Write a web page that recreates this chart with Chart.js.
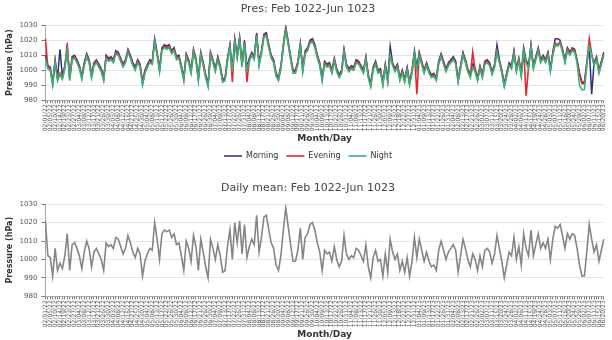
<!DOCTYPE html>
<html>
<head>
<meta charset="utf-8">
<script src="https://cdn.jsdelivr.net/npm/chart.js@4.4.1/dist/chart.umd.min.js"></script>
<style>
  body { margin: 0; background: #fff; }
  #top { position: absolute; left: 0; top: 0; width: 612px; height: 172px; }
  #bottom { position: absolute; left: 0; top: 174px; width: 612px; height: 166px; }
</style>
</head>
<body>
<div id="top"><canvas id="presChart"></canvas></div>
<div id="bottom"><canvas id="meanChart"></canvas></div>
<script>
const topTitle = 'Pres: Feb 1022-Jun 1023';
const bottomTitle = 'Daily mean: Feb 1022-Jun 1023';
const seriesNames = ['Morning', 'Evening', 'Night'];
const yMin = 980;
const yMax = 1030;

const morningValues = [
  1010, 1003, 1002, 992, 1007, 995, 1014, 996, 1003, 1015,
  995, 1009, 1010, 1007, 1003, 996, 1005, 1011, 1007, 997,
  1005, 1007, 1004, 1001, 995, 1010, 1008, 1009, 1007, 1013,
  1012, 1008, 1004, 1007, 1014, 1010, 1005, 1002, 1007, 1004,
  992, 1000, 1004, 1007, 1006, 1021, 1012, 1001, 1015, 1017,
  1016, 1017, 1013, 1015, 1009, 1010, 1003, 995, 1011, 1007,
  1000,
  1014, 1008, 995, 1012, 1005, 997, 991, 1012, 1007, 1001,
  1009, 1003, 994, 995, 1008, 1017, 1001, 1021, 1010, 1022,
  1004, 1020, 1002, 1008, 1012, 1009, 1025, 1005, 1013, 1024,
  1025, 1017, 1010, 1007, 998, 995, 1003, 1017, 1029, 1019,
  1009, 1000, 1000, 1006, 1018, 1001, 1013, 1015, 1020, 1021,
  1017, 1010, 1005, 995, 1006, 1004, 1005, 1000, 1008, 1001,
  997, 1000, 1014, 1004, 1001, 1003, 1002, 1007, 1006, 1003,
  1000, 1009, 997, 991, 1002, 1006, 1000, 1001, 992, 1004,
  994,
  1016, 1005, 1001, 1004, 995, 1000, 994, 1002, 992, 1000,
  1013, 1002, 1012, 1006, 1000, 1005, 1000, 997, 998, 995,
  1006, 1011, 1006, 1001, 1005, 1007, 1009, 1006, 994, 1003,
  1012, 1007, 1001, 997, 1004, 1001, 995, 1003, 997, 1006,
  1007, 1005, 999, 1004, 1017, 1007, 1000, 991, 998, 1005,
  1003, 1013, 1001, 1008, 998, 1015, 1007, 1003, 1017, 1003,
  1009, 1015, 1007, 1010, 1007, 1012, 1001, 1012, 1021, 1021,
  1020, 1014, 1007, 1015, 1012, 1015, 1014, 1007, 998, 992,
  992, 1005, 1016, 984, 1005, 1009, 1000, 1006, 1012
];

const eveningValues = [
  1021, 1002, 1001, 991, 1006, 994, 998, 995, 1002, 1018,
  994, 1008, 1009, 1006, 1002, 995, 1004, 1010, 1006, 996,
  1004, 1006, 1003, 1000, 994, 1009, 1007, 1008, 1006, 1012,
  1011, 1007, 1003, 1006, 1013, 1009, 1004, 1001, 1006, 1003,
  991, 999, 1003, 1006, 1005, 1020, 1011, 1000, 1014, 1016,
  1015, 1016, 1012, 1014, 1008, 1009, 1002, 994, 1010, 1006,
  999,
  1013, 1007, 994, 1011, 1004, 996, 990, 1011, 1006, 1000,
  1008, 1002, 993, 994, 1007, 1016, 992, 1020, 1009, 1021,
  1003, 1019, 992, 1007, 1011, 1008, 1024, 1004, 1012, 1023,
  1024, 1016, 1009, 1006, 997, 994, 1002, 1016, 1028, 1018,
  1008, 999, 999, 1005, 1017, 1000, 1012, 1014, 1019, 1020,
  1016, 1009, 1004, 994, 1005, 1003, 1004, 999, 1007, 1000,
  996, 999, 1013, 1003, 1000, 1002, 1001, 1006, 1005, 1002,
  999, 1008, 996, 990, 1001, 1005, 999, 1000, 991, 1003,
  993,
  1011, 1004, 1000, 1003, 994, 999, 993, 1001, 991, 999,
  1012, 984, 1011, 1005, 999, 1004, 999, 996, 997, 994,
  1005, 1010, 1005, 1000, 1004, 1006, 1008, 1005, 993, 1002,
  1011, 1006, 1000, 996, 1012, 1000, 994, 1002, 996, 1005,
  1006, 1004, 998, 1003, 1013, 1006, 999, 990, 997, 1004,
  1002, 1012, 1000, 1007, 997, 1014, 983, 1002, 1016, 1002,
  1008, 1014, 1006, 1009, 1006, 1011, 1000, 1011, 1018, 1017,
  1019, 1013, 1006, 1014, 1011, 1014, 1013, 1006, 997, 991,
  991, 1004, 1021, 1011, 1004, 1008, 999, 1005, 1011
];

const nightValues = [
  1008, 1001, 1000, 990, 1005, 993, 997, 994, 1001, 1013,
  993, 1007, 1008, 1005, 1001, 994, 1003, 1009, 1005, 995,
  1003, 1005, 1002, 999, 993, 1008, 1006, 1007, 1005, 1011,
  1010, 1006, 1002, 1005, 1012, 1008, 1003, 1000, 1005, 1002,
  990, 998, 1002, 1005, 1004, 1019, 1010, 999, 1013, 1015,
  1014, 1015, 1011, 1013, 1007, 1008, 1001, 993, 1009, 1005,
  998,
  1012, 1006, 993, 1010, 1003, 995, 989, 1010, 1005, 999,
  1007, 1001, 992, 993, 1006, 1015, 999, 1019, 1008, 1020,
  1002, 1018, 1000, 1006, 1010, 1007, 1023, 1003, 1011, 1022,
  1023, 1015, 1008, 1005, 996, 993, 1001, 1015, 1027, 1017,
  1007, 998, 998, 1004, 1016, 999, 1011, 1013, 1018, 1019,
  1015, 1008, 1003, 993, 1004, 1002, 1003, 998, 1006, 999,
  995, 998, 1012, 1002, 999, 1001, 1000, 1005, 1004, 1001,
  998, 1007, 995, 989, 1000, 1004, 998, 999, 990, 1002,
  992,
  1010, 1003, 999, 1002, 993, 998, 992, 1000, 990, 998,
  1011, 1000, 1010, 1004, 998, 1003, 998, 995, 996, 993,
  1004, 1009, 1004, 999, 1003, 1005, 1007, 1004, 992, 1001,
  1010, 1005, 999, 995, 1002, 999, 993, 1001, 995, 1004,
  1005, 1003, 997, 1002, 1012, 1005, 998, 989, 996, 1003,
  1001, 1011, 999, 1006, 996, 1013, 1005, 1001, 1015, 1001,
  1007, 1013, 1005, 1008, 1005, 1010, 999, 1010, 1017, 1016,
  1018, 1012, 1005, 1013, 1010, 1013, 1012, 1005, 990, 987,
  987, 1003, 1016, 1010, 1003, 1007, 998, 1004, 1010
];

const meanValues = [
  1021, 1002, 1001, 991, 1006, 994, 998, 995, 1002, 1014,
  994, 1008, 1009, 1006, 1002, 995, 1004, 1010, 1006, 996,
  1004, 1006, 1003, 1000, 994, 1009, 1007, 1008, 1006, 1012,
  1011, 1007, 1003, 1006, 1013, 1009, 1004, 1001, 1006, 1003,
  991, 999, 1003, 1006, 1005, 1020, 1011, 1000, 1014, 1016,
  1015, 1016, 1012, 1014, 1008, 1009, 1002, 994, 1010, 1006,
  999,
  1013, 1007, 994, 1011, 1004, 996, 990, 1011, 1006, 1000,
  1008, 1002, 993, 994, 1007, 1016, 1000, 1020, 1009, 1021,
  1003, 1019, 1001, 1007, 1011, 1008, 1024, 1004, 1012, 1023,
  1024, 1016, 1009, 1006, 997, 994, 1002, 1016, 1028, 1018,
  1008, 999, 999, 1005, 1017, 1000, 1012, 1014, 1019, 1020,
  1016, 1009, 1004, 994, 1005, 1003, 1004, 999, 1007, 1000,
  996, 999, 1013, 1003, 1000, 1002, 1001, 1006, 1005, 1002,
  999, 1008, 996, 990, 1001, 1005, 999, 1000, 991, 1003,
  993,
  1011, 1004, 1000, 1003, 994, 999, 993, 1001, 991, 999,
  1012, 1001, 1011, 1005, 999, 1004, 999, 996, 997, 994,
  1005, 1010, 1005, 1000, 1004, 1006, 1008, 1005, 993, 1002,
  1011, 1006, 1000, 996, 1003, 1000, 994, 1002, 996, 1005,
  1006, 1004, 998, 1003, 1013, 1006, 999, 990, 997, 1004,
  1002, 1012, 1000, 1007, 997, 1014, 1006, 1002, 1016, 1002,
  1008, 1014, 1006, 1009, 1006, 1011, 1000, 1011, 1018, 1017,
  1019, 1013, 1006, 1014, 1011, 1014, 1013, 1006, 997, 991,
  991, 1004, 1019, 1011, 1004, 1008, 999, 1005, 1011
];

// one label per sample, samples roughly every 2.2 days from 1 Feb
const dayStep = 2.19;
const dateLabels = [];
for (let i = 0; i < meanValues.length; i++) {
    const d = new Date(2022, 1, 1 + Math.round(i * dayStep));
    const mm = String(d.getMonth() + 1).padStart(2, '0');
    const dd = String(d.getDate()).padStart(2, '0');
    dateLabels.push(mm + '/' + dd + '/' + String(d.getFullYear()).slice(2));
}

Chart.defaults.font.family = "'DejaVu Sans', Verdana, sans-serif";
Chart.defaults.color = '#444';

function buildScales() {
    return {
        x: {
            grid: { drawOnChartArea: false, tickLength: 3, tickColor: '#777' },
            border: { color: '#aaa' },
            ticks: {
                autoSkip: false,
                minRotation: 90,
                maxRotation: 90,
                padding: 1,
                color: '#555',
                font: { size: 6 },
                callback: function (value, index) {
                    return index % 2 === 0 ? this.getLabelForValue(value) : '';
                }
            },
            title: {
                display: true,
                text: 'Month/Day',
                color: '#333',
                font: { size: 9, weight: 'bold' },
                padding: { top: 1, bottom: 0 }
            }
        },
        y: {
            min: yMin,
            max: yMax,
            grid: { color: '#e4e4e4', tickLength: 4, tickColor: '#777' },
            border: { color: '#aaa' },
            ticks: {
                stepSize: 10,
                color: '#555',
                font: { size: 7 },
                padding: 4,
                callback: value => String(value)
            },
            title: {
                display: true,
                text: 'Pressure (hPa)',
                color: '#333',
                font: { size: 8, weight: 'bold' },
                padding: 1
            }
        }
    };
}

// night drawn on top, morning underneath (order), legend kept in dataset order
new Chart(document.getElementById('presChart'), {
    type: 'line',
    data: {
        labels: dateLabels,
        datasets: [
            { label: seriesNames[0], data: morningValues, borderColor: '#26327f', borderWidth: 1.5, order: 2 },
            { label: seriesNames[1], data: eveningValues, borderColor: '#e8262f', borderWidth: 1.6, order: 1 },
            { label: seriesNames[2], data: nightValues, borderColor: '#30b47a', borderWidth: 1.6, order: 0 }
        ]
    },
    options: {
        responsive: true,
        maintainAspectRatio: false,
        animation: false,
        elements: { point: { radius: 0 }, line: { tension: 0 } },
        layout: { padding: { left: 4, right: 0, top: 0, bottom: 2 } },
        plugins: {
            title: {
                display: true,
                text: topTitle,
                color: '#444',
                font: { size: 11, weight: 'normal' },
                padding: { top: 3, bottom: 9 }
            },
            legend: {
                position: 'bottom',
                labels: {
                    usePointStyle: true,
                    pointStyle: 'line',
                    pointStyleWidth: 18,
                    boxHeight: 7,
                    color: '#333',
                    font: { size: 8 },
                    padding: 8,
                    sort: (a, b) => a.datasetIndex - b.datasetIndex
                }
            },
            tooltip: { enabled: false }
        },
        scales: buildScales()
    }
});

new Chart(document.getElementById('meanChart'), {
    type: 'line',
    data: {
        labels: dateLabels,
        datasets: [
            { label: 'Daily mean', data: meanValues, borderColor: '#858585', borderWidth: 1.6 }
        ]
    },
    options: {
        responsive: true,
        maintainAspectRatio: false,
        animation: false,
        elements: { point: { radius: 0 }, line: { tension: 0 } },
        layout: { padding: { left: 4, right: 0, top: 0, bottom: 0 } },
        plugins: {
            title: {
                display: true,
                text: bottomTitle,
                color: '#444',
                font: { size: 11, weight: 'normal' },
                padding: { top: 8, bottom: 9 }
            },
            legend: { display: false },
            tooltip: { enabled: false }
        },
        scales: buildScales()
    }
});
</script>
</body>
</html>
